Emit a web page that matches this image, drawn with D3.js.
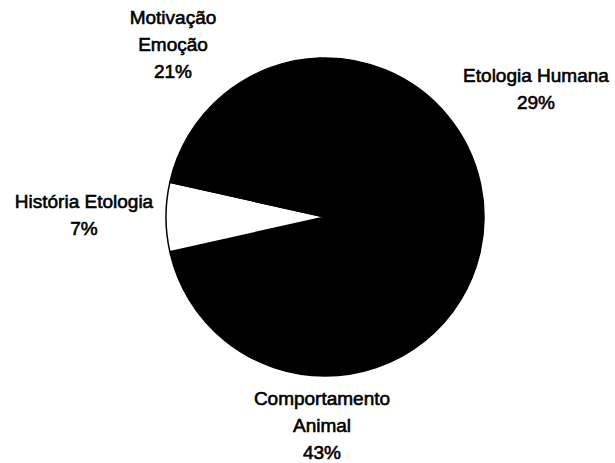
<!DOCTYPE html>
<html>
<head>
<meta charset="utf-8">
<script src="https://cdn.jsdelivr.net/npm/d3@7"></script>
<style>
  body { margin: 0; background: #fff; }
  text { font-family: "Liberation Sans", Arial, sans-serif; font-size: 19px; fill: #000; }
</style>
</head>
<body>
<div id="chart"></div>
<script>
// slices, clockwise from the top
const names = ["Etologia Humana", "Comportamento Animal", "História Etologia", "Motivação Emoção"];
const values = [29, 43, 7, 21];
const labelLines = [["Etologia Humana"], ["Comportamento", "Animal"], ["História Etologia"], ["Motivação", "Emoção"]];
const fills = ["#000", "#000", "#fff", "#000"];

const W = 615, H = 463;
const cx = 325, cy = 217, r = 159;

// where each label block sits (x centre, first baseline)
const labelPos = [[536, 82], [322, 405], [84, 208], [173, 24]];
const lineH = 27;

const svg = d3.select("#chart").append("svg")
  .attr("width", W).attr("height", H);

const data = names.map((n, i) => ({ name: n, value: values[i], i }));
const total = d3.sum(values);

// start a bit left of 12 o'clock so the small slice is centred on 9 o'clock
const start = -0.0314;
const pie = d3.pie().sort(null).value(d => d.value)
  .startAngle(start).endAngle(start + 2 * Math.PI);
const arc = d3.arc().innerRadius(0).outerRadius(r);

const g = svg.append("g").attr("transform", `translate(${cx},${cy})`);

g.selectAll("path")
  .data(pie(data))
  .join("path")
  .attr("d", arc)
  .attr("fill", d => fills[d.data.i])
  .attr("stroke", "#000")
  .attr("stroke-width", 1.5)
  .attr("stroke-linejoin", "round");

const pct = d3.format(".0%");

const labels = svg.append("g").selectAll("text")
  .data(data)
  .join("text")
  .attr("text-anchor", "middle")
  .attr("stroke", "#000")
  .attr("stroke-width", 0.6);

labels.each(function (d) {
  const t = d3.select(this);
  const [x, y] = labelPos[d.i];
  const lines = labelLines[d.i].concat(pct(d.value / total));
  lines.forEach((s, k) => {
    t.append("tspan").attr("x", x).attr("y", y + k * lineH).text(s);
  });
});
</script>
</body>
</html>
